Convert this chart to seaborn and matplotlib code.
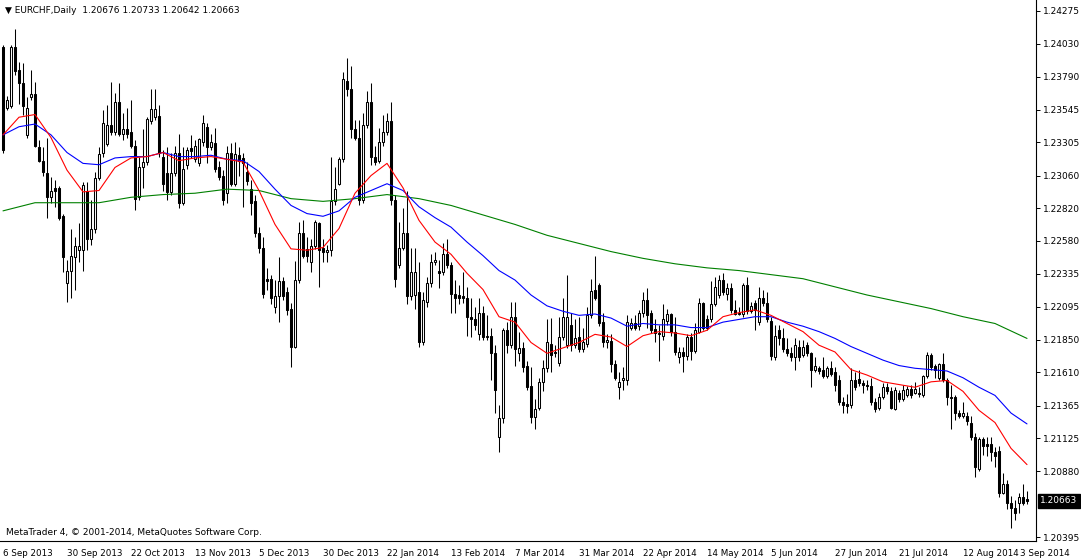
import numpy as np
import pandas as pd
import matplotlib
matplotlib.use("Agg")
import matplotlib.pyplot as plt
import matplotlib.transforms as mtransforms
import seaborn as sns

# EURCHF daily candles, 6 Sep 2013 .. 3 Sep 2014
opens = [
    1.2401, 1.2356, 1.2357, 1.2401, 1.2384, 1.2374, 1.2336, 1.2364, 1.2366, 1.2327,
    1.2317, 1.2308, 1.2290, 1.2297, 1.2297, 1.2276, 1.2227, 1.2236, 1.2246, 1.2251,
    1.2251, 1.2295, 1.2259, 1.2267, 1.2304, 1.2323, 1.2329, 1.2343, 1.2338, 1.2360,
    1.2337, 1.2340, 1.2338, 1.2328, 1.2290, 1.2312, 1.2316, 1.2346, 1.2349, 1.2350,
    1.2320, 1.2308, 1.2294, 1.2308, 1.2323, 1.2286, 1.2314, 1.2326, 1.2318, 1.2315,
    1.2331, 1.2342, 1.2327, 1.2330, 1.2312, 1.2306, 1.2293, 1.2323, 1.2300, 1.2321,
    1.2319, 1.2309, 1.2296, 1.2287, 1.2264, 1.2253, 1.2230, 1.2230, 1.2209, 1.2217,
    1.2228, 1.2220, 1.2208, 1.2180, 1.2229, 1.2264, 1.2252, 1.2242, 1.2254, 1.2271,
    1.2253, 1.2250, 1.2251, 1.2287, 1.2300, 1.2318, 1.2376, 1.2370, 1.2340, 1.2334,
    1.2288, 1.2343, 1.2360, 1.2320, 1.2317, 1.2331, 1.2338, 1.2346, 1.2288, 1.2240,
    1.2253, 1.2264, 1.2217, 1.2218, 1.2220, 1.2183, 1.2213, 1.2227, 1.2242, 1.2236,
    1.2235, 1.2248, 1.2240, 1.2219, 1.2218, 1.2217, 1.2216, 1.2202, 1.2200, 1.2189,
    1.2205, 1.2187, 1.2188, 1.2175, 1.2113, 1.2127, 1.2192, 1.2181, 1.2202, 1.2175,
    1.2179, 1.2166, 1.2151, 1.2128, 1.2135, 1.2154, 1.2164, 1.2182, 1.2176, 1.2168,
    1.2187, 1.2181, 1.2196, 1.2181, 1.2187, 1.2178, 1.2182, 1.2203, 1.2222, 1.2225,
    1.2198, 1.2183, 1.2184, 1.2167, 1.2150, 1.2155, 1.2155, 1.2194, 1.2197, 1.2195,
    1.2205, 1.2214, 1.2205, 1.2193, 1.2190, 1.2188, 1.2199, 1.2204, 1.2191, 1.2172,
    1.2176, 1.2173, 1.2187, 1.2177, 1.2191, 1.2212, 1.2200, 1.2200, 1.2211, 1.2218,
    1.2229, 1.2219, 1.2223, 1.2207, 1.2205, 1.2204, 1.2225, 1.2206, 1.2212, 1.2198,
    1.2216, 1.2212, 1.2199, 1.2172, 1.2192, 1.2186, 1.2178, 1.2175, 1.2172, 1.2180,
    1.2174, 1.2181, 1.2175, 1.2163, 1.2164, 1.2163, 1.2158, 1.2164, 1.2161, 1.2155,
    1.2139, 1.2138, 1.2137, 1.2155, 1.2156, 1.2153, 1.2152, 1.2151, 1.2139, 1.2135,
    1.2143, 1.2150, 1.2147, 1.2134, 1.2146, 1.2141, 1.2144, 1.2149, 1.2146, 1.2146,
    1.2144, 1.2158, 1.2174, 1.2166, 1.2157, 1.2167, 1.2155, 1.2143, 1.2143, 1.2131,
    1.2129, 1.2129, 1.2124, 1.2113, 1.2090, 1.2112, 1.2108, 1.2108, 1.2102, 1.2103,
    1.2072, 1.2079, 1.2065, 1.2061, 1.2065, 1.2069, 1.20676,
]
highs = [
    1.2402, 1.2365, 1.2402, 1.2414, 1.2390, 1.2389, 1.2364, 1.2384, 1.2375, 1.2332,
    1.2327, 1.2334, 1.2305, 1.2303, 1.2298, 1.2278, 1.2244, 1.2267, 1.2261, 1.2271,
    1.2301, 1.2301, 1.2288, 1.2309, 1.2327, 1.2354, 1.2358, 1.2375, 1.2367, 1.2374,
    1.2352, 1.2356, 1.2362, 1.2332, 1.2320, 1.2340, 1.2349, 1.2370, 1.2370, 1.2358,
    1.2325, 1.2327, 1.2323, 1.2328, 1.2337, 1.2327, 1.2327, 1.2336, 1.2332, 1.2334,
    1.2351, 1.2345, 1.2337, 1.2341, 1.2317, 1.2310, 1.2328, 1.2330, 1.2331, 1.2327,
    1.2323, 1.2316, 1.2303, 1.2292, 1.2268, 1.2261, 1.2238, 1.2233, 1.2229, 1.2246,
    1.2231, 1.2224, 1.2212, 1.2243, 1.2272, 1.2273, 1.2261, 1.2259, 1.2273, 1.2272,
    1.2259, 1.2255, 1.2320, 1.2312, 1.2320, 1.2382, 1.2393, 1.2387, 1.2347, 1.2347,
    1.2352, 1.2368, 1.2374, 1.2328, 1.2341, 1.2351, 1.2352, 1.2360, 1.2292, 1.2272,
    1.2282, 1.2295, 1.2253, 1.2253, 1.2242, 1.2220, 1.2231, 1.2248, 1.2250, 1.2244,
    1.2256, 1.2259, 1.2242, 1.2229, 1.2225, 1.2235, 1.2224, 1.2216, 1.2209, 1.2216,
    1.2210, 1.2203, 1.2194, 1.2181, 1.2137, 1.2194, 1.2198, 1.2213, 1.2213, 1.2191,
    1.2183, 1.2169, 1.2165, 1.2141, 1.2157, 1.2170, 1.2200, 1.2201, 1.2181, 1.2202,
    1.2216, 1.2233, 1.2205, 1.2200, 1.2202, 1.2194, 1.2209, 1.2230, 1.2247, 1.2227,
    1.2205, 1.2189, 1.2189, 1.2170, 1.2161, 1.2165, 1.2203, 1.2201, 1.2203, 1.2207,
    1.2220, 1.2223, 1.2207, 1.2200, 1.2196, 1.2211, 1.2208, 1.2205, 1.2202, 1.2180,
    1.2180, 1.2189, 1.2190, 1.2197, 1.2216, 1.2213, 1.2203, 1.2228, 1.2231, 1.2233,
    1.2234, 1.2227, 1.2227, 1.2214, 1.2209, 1.2227, 1.2231, 1.2213, 1.2214, 1.2224,
    1.2222, 1.2220, 1.2202, 1.2196, 1.2196, 1.2194, 1.2186, 1.2180, 1.2186, 1.2185,
    1.2185, 1.2183, 1.2176, 1.2172, 1.2166, 1.2172, 1.2166, 1.2169, 1.2165, 1.2159,
    1.2143, 1.2145, 1.2164, 1.2161, 1.2163, 1.2155, 1.2155, 1.2157, 1.2142, 1.2146,
    1.2153, 1.2153, 1.2150, 1.2150, 1.2148, 1.2152, 1.2151, 1.2152, 1.2154, 1.2150,
    1.2159, 1.2176, 1.2175, 1.2167, 1.2168, 1.2175, 1.2157, 1.2152, 1.2144, 1.2133,
    1.2139, 1.2132, 1.2129, 1.2116, 1.2113, 1.2113, 1.2113, 1.2113, 1.2106, 1.2107,
    1.2087, 1.2082, 1.2070, 1.2067, 1.2072, 1.2079, 1.20733,
]
lows = [
    1.2323, 1.2354, 1.2356, 1.2380, 1.2359, 1.2351, 1.2334, 1.2362, 1.2327, 1.2316,
    1.2306, 1.2275, 1.2286, 1.2283, 1.2273, 1.2235, 1.2213, 1.2216, 1.2222, 1.2242,
    1.2236, 1.2251, 1.2255, 1.2264, 1.2303, 1.2320, 1.2328, 1.2336, 1.2336, 1.2335,
    1.2332, 1.2334, 1.2326, 1.2281, 1.2288, 1.2297, 1.2314, 1.2344, 1.2347, 1.2320,
    1.2295, 1.2288, 1.2292, 1.2306, 1.2282, 1.2284, 1.2311, 1.2319, 1.2316, 1.2313,
    1.2328, 1.2315, 1.2325, 1.2309, 1.2303, 1.2284, 1.2286, 1.2298, 1.2298, 1.2306,
    1.2283, 1.2299, 1.2277, 1.2261, 1.2249, 1.2216, 1.2222, 1.2211, 1.2205, 1.2198,
    1.2214, 1.2203, 1.2165, 1.2179, 1.2227, 1.2245, 1.2242, 1.2235, 1.2252, 1.2224,
    1.2242, 1.2242, 1.2247, 1.2284, 1.2299, 1.2316, 1.2365, 1.2334, 1.2332, 1.2284,
    1.2286, 1.2341, 1.2314, 1.2314, 1.2315, 1.2328, 1.2336, 1.2284, 1.2224, 1.2238,
    1.2251, 1.2211, 1.2214, 1.2208, 1.2180, 1.2181, 1.2209, 1.2224, 1.2240, 1.2223,
    1.2233, 1.2238, 1.2205, 1.2205, 1.2211, 1.2212, 1.2188, 1.2187, 1.2192, 1.2185,
    1.2185, 1.2185, 1.2155, 1.2131, 1.2102, 1.2124, 1.2175, 1.2179, 1.2166, 1.2169,
    1.2161, 1.2148, 1.2124, 1.2119, 1.2133, 1.2147, 1.2161, 1.2161, 1.2172, 1.2166,
    1.2185, 1.2179, 1.2177, 1.2179, 1.2176, 1.2176, 1.2180, 1.2201, 1.2214, 1.2195,
    1.2180, 1.2179, 1.2161, 1.2155, 1.2141, 1.2148, 1.2152, 1.2192, 1.2192, 1.2192,
    1.2202, 1.2194, 1.2190, 1.2183, 1.2169, 1.2185, 1.2196, 1.2188, 1.2174, 1.2168,
    1.2161, 1.2170, 1.2170, 1.2175, 1.2190, 1.2192, 1.2192, 1.2198, 1.2210, 1.2216,
    1.2218, 1.2214, 1.2205, 1.2203, 1.2203, 1.2202, 1.2204, 1.2205, 1.2192, 1.2196,
    1.2210, 1.2198, 1.2170, 1.2170, 1.2181, 1.2176, 1.2173, 1.2169, 1.2163, 1.2169,
    1.2172, 1.2173, 1.2150, 1.2161, 1.2160, 1.2157, 1.2157, 1.2158, 1.2147, 1.2137,
    1.2131, 1.2131, 1.2135, 1.2148, 1.2151, 1.2146, 1.2148, 1.2137, 1.2132, 1.2133,
    1.2141, 1.2145, 1.2134, 1.2133, 1.2139, 1.2140, 1.2143, 1.2142, 1.2145, 1.2143,
    1.2143, 1.2157, 1.2163, 1.2157, 1.2155, 1.2154, 1.2137, 1.2119, 1.2126, 1.2127,
    1.2127, 1.2122, 1.2111, 1.2084, 1.2088, 1.2100, 1.2099, 1.2096, 1.2091, 1.2069,
    1.2071, 1.2060, 1.2046, 1.2052, 1.2057, 1.2063, 1.20642,
]
closes = [
    1.2325, 1.2362, 1.2401, 1.2383, 1.2374, 1.2357, 1.2356, 1.2366, 1.2328, 1.2317,
    1.2309, 1.2290, 1.2295, 1.2295, 1.2275, 1.2246, 1.2236, 1.2247, 1.2254, 1.2254,
    1.2299, 1.2259, 1.2267, 1.2304, 1.2322, 1.2345, 1.2343, 1.2338, 1.2360, 1.2337,
    1.2340, 1.2337, 1.2328, 1.2289, 1.2312, 1.2316, 1.2348, 1.2355, 1.2355, 1.2323,
    1.2300, 1.2294, 1.2308, 1.2323, 1.2286, 1.2311, 1.2325, 1.2324, 1.2328, 1.2333,
    1.2345, 1.2327, 1.2331, 1.2311, 1.2305, 1.2288, 1.2323, 1.2300, 1.2322, 1.2317,
    1.2315, 1.2302, 1.2286, 1.2264, 1.2253, 1.2219, 1.2228, 1.2216, 1.2217, 1.2228,
    1.2217, 1.2207, 1.2180, 1.2229, 1.2264, 1.2247, 1.2247, 1.2254, 1.2272, 1.2251,
    1.2250, 1.2251, 1.2287, 1.2296, 1.2318, 1.2377, 1.2370, 1.2340, 1.2334, 1.2288,
    1.2343, 1.2360, 1.2320, 1.2316, 1.2331, 1.2338, 1.2346, 1.2288, 1.2230, 1.2253,
    1.2264, 1.2217, 1.2235, 1.2235, 1.2183, 1.2214, 1.2227, 1.2242, 1.2244, 1.2234,
    1.2248, 1.2240, 1.2219, 1.2216, 1.2216, 1.2216, 1.2202, 1.2200, 1.2196, 1.2205,
    1.2187, 1.2188, 1.2175, 1.2148, 1.2127, 1.2192, 1.2181, 1.2202, 1.2178, 1.2179,
    1.2165, 1.2150, 1.2128, 1.2134, 1.2154, 1.2164, 1.2183, 1.2174, 1.2175, 1.2187,
    1.2202, 1.2202, 1.2181, 1.2186, 1.2178, 1.2183, 1.2203, 1.2221, 1.2216, 1.2197,
    1.2183, 1.2185, 1.2167, 1.2157, 1.2154, 1.2157, 1.2198, 1.2197, 1.2194, 1.2205,
    1.2214, 1.2203, 1.2192, 1.2190, 1.2189, 1.2200, 1.2204, 1.2191, 1.2176, 1.2176,
    1.2173, 1.2187, 1.2177, 1.2192, 1.2212, 1.2194, 1.2194, 1.2211, 1.2224, 1.2229,
    1.2220, 1.2223, 1.2207, 1.2204, 1.2204, 1.2225, 1.2206, 1.2210, 1.2207, 1.2216,
    1.2212, 1.2200, 1.2173, 1.2188, 1.2186, 1.2178, 1.2175, 1.2172, 1.2181, 1.2172,
    1.2180, 1.2175, 1.2163, 1.2166, 1.2162, 1.2158, 1.2164, 1.2160, 1.2152, 1.2139,
    1.2137, 1.2136, 1.2155, 1.2150, 1.2153, 1.2152, 1.2151, 1.2139, 1.2134, 1.2143,
    1.2150, 1.2147, 1.2135, 1.2148, 1.2141, 1.2148, 1.2149, 1.2144, 1.2149, 1.2145,
    1.2158, 1.2174, 1.2165, 1.2163, 1.2167, 1.2155, 1.2143, 1.2142, 1.2131, 1.2129,
    1.2131, 1.2125, 1.2113, 1.2091, 1.2112, 1.2107, 1.2107, 1.2102, 1.2099, 1.2072,
    1.2079, 1.2065, 1.2061, 1.2057, 1.2069, 1.2065, 1.20663,
]

# moving averages, sampled every 4 bars (red, blue) and every 8 bars (green)
red_ma = [
    1.2336, 1.2349, 1.2351, 1.2334, 1.2310, 1.2294, 1.2295, 1.2312, 1.2319, 1.2320,
    1.2323, 1.2317, 1.2319, 1.2320, 1.2318, 1.2316, 1.2295, 1.2270, 1.2252, 1.2251,
    1.2253, 1.2267, 1.2293, 1.2306, 1.2315, 1.2297, 1.2273, 1.2257, 1.2248, 1.2234,
    1.2222, 1.2202, 1.2198, 1.2183, 1.2175, 1.2179, 1.2183, 1.2189, 1.2187, 1.2180,
    1.2188, 1.2191, 1.2190, 1.2188, 1.2192, 1.2202, 1.2205, 1.2207, 1.2203, 1.2197,
    1.2191, 1.2181, 1.2176, 1.2163, 1.2159, 1.2154, 1.2152, 1.2150, 1.2154, 1.2155,
    1.2147, 1.2133, 1.2124, 1.2105, 1.2093,
]
blue_ma = [
    1.2336, 1.2342, 1.2344, 1.2336, 1.2323, 1.2315, 1.2314, 1.2319, 1.2320, 1.2320,
    1.2323, 1.2320, 1.2320, 1.2321, 1.2318, 1.2317, 1.2309, 1.2296, 1.2284, 1.2278,
    1.2276, 1.2280, 1.2290, 1.2295, 1.2300, 1.2295, 1.2283, 1.2275, 1.2268, 1.2257,
    1.2247, 1.2236, 1.2229, 1.2218, 1.2210, 1.2206, 1.2203, 1.2204, 1.2201, 1.2195,
    1.2197, 1.2196, 1.2196, 1.2194, 1.2194, 1.2198, 1.2200, 1.2202, 1.2202, 1.2198,
    1.2195, 1.2191, 1.2186, 1.2180, 1.2175, 1.2170, 1.2166, 1.2164, 1.2163, 1.2162,
    1.2157, 1.2150, 1.2144, 1.2131, 1.2123,
]
green_ma = [
    1.2280, 1.2286, 1.2286, 1.2286, 1.2290, 1.2292, 1.2293, 1.2296, 1.2295, 1.2289,
    1.2287, 1.2289, 1.2292, 1.2289, 1.2284, 1.2277, 1.2270, 1.2262, 1.2256, 1.2250,
    1.2245, 1.2241, 1.2238, 1.2236, 1.2233, 1.2230, 1.2224, 1.2218, 1.2213, 1.2208,
    1.2202, 1.2197, 1.2186,
]

date_labels = [
    "6 Sep 2013", "30 Sep 2013", "22 Oct 2013", "13 Nov 2013", "5 Dec 2013",
    "30 Dec 2013", "22 Jan 2014", "13 Feb 2014", "7 Mar 2014", "31 Mar 2014",
    "22 Apr 2014", "14 May 2014", "5 Jun 2014", "27 Jun 2014", "21 Jul 2014",
    "12 Aug 2014", "3 Sep 2014",
]
price_ticks = [
    1.24275, 1.24030, 1.23790, 1.23545, 1.23305, 1.23060, 1.22820, 1.22580,
    1.22335, 1.22095, 1.21850, 1.21610, 1.21365, 1.21125, 1.20880, 1.20395,
]
symbol = "EURCHF,Daily"
last_bar = [1.20676, 1.20733, 1.20642, 1.20663]

sns.set_theme(style="white")
plt.rcParams["font.family"] = ["DejaVu Sans"]

df = pd.DataFrame({"open": opens, "high": highs, "low": lows, "close": closes})
df["bar"] = np.arange(len(df))
df["up"] = df["close"] >= df["open"]
df["body_lo"] = df[["open", "close"]].min(axis=1)
df["body_h"] = (df["close"] - df["open"]).abs().clip(lower=0.00002)

fig = plt.figure(figsize=(10.81, 5.60), dpi=100)
ax = fig.add_axes([0.0, 19 / 560, 1036 / 1081, 541 / 560])

# wicks
ax.vlines(df["bar"], df["low"], df["high"], color="black", linewidth=0.75, zorder=2)
# bodies
bull = df[df["up"]]
bear = df[~df["up"]]
ax.bar(bull["bar"], bull["body_h"], bottom=bull["body_lo"], width=0.55,
       color="white", edgecolor="black", linewidth=0.75, zorder=3)
ax.bar(bear["bar"], bear["body_h"], bottom=bear["body_lo"], width=0.55,
       color="black", edgecolor="black", linewidth=0.75, zorder=3)

# moving averages
ma_fast = pd.DataFrame({"bar": np.arange(0, len(df), 4), "v": red_ma})
ma_mid = pd.DataFrame({"bar": np.arange(0, len(df), 4), "v": blue_ma})
ma_slow = pd.DataFrame({"bar": np.arange(0, len(df), 8), "v": green_ma})
sns.lineplot(data=ma_slow, x="bar", y="v", color="#008000", linewidth=0.8, ax=ax, zorder=4)
sns.lineplot(data=ma_mid, x="bar", y="v", color="#0000ff", linewidth=0.8, ax=ax, zorder=4)
sns.lineplot(data=ma_fast, x="bar", y="v", color="#ff0000", linewidth=0.8, ax=ax, zorder=4)

ax.set_xlim(-0.75, 258.25)
ax.set_ylim(1.20367, 1.24354)
ax.set_xlabel("")
ax.set_ylabel("")

for side in ["top", "left"]:
    ax.spines[side].set_visible(False)
for side in ["right", "bottom"]:
    ax.spines[side].set_color("black")
    ax.spines[side].set_linewidth(0.8)

ax.yaxis.tick_right()
ax.set_yticks(price_ticks)
ax.set_yticklabels([f"{v:.5f}" for v in price_ticks])
ax.tick_params(axis="y", direction="out", length=3, width=0.7, pad=2,
               labelsize=6.5, colors="black")

ax.set_xticks(np.arange(0, len(df), 16)[:len(date_labels)])
ax.set_xticklabels(date_labels, ha="left")
ax.tick_params(axis="x", direction="out", length=4, width=0.7, pad=1.5,
               labelsize=6.3, colors="black")
# the last date label is pushed left so it stays inside the picture
last_lbl = ax.get_xticklabels()[-1]
last_lbl.set_transform(last_lbl.get_transform() +
                       mtransforms.ScaledTranslation(-0.07, 0, fig.dpi_scale_trans))

# current price marker
trans = mtransforms.blended_transform_factory(ax.transAxes, ax.transData)
ax.text(1.004, last_bar[3], f"{last_bar[3]:.5f}", transform=trans, ha="left",
        va="center", fontsize=6.5, color="white", zorder=10, clip_on=False,
        bbox=dict(boxstyle="square,pad=0.25", facecolor="black", edgecolor="black"))

ax.text(0.005, 0.988,
        "\u25BC " + symbol + "  " + " ".join(f"{v:.5f}" for v in last_bar),
        transform=ax.transAxes, ha="left", va="top", fontsize=6.5, color="black")
ax.text(0.006, 0.008, "MetaTrader 4, \u00A9 2001-2014, MetaQuotes Software Corp.",
        transform=ax.transAxes, ha="left", va="bottom", fontsize=6.5, color="black")

fig.savefig("out.png", dpi=100, facecolor="white")
